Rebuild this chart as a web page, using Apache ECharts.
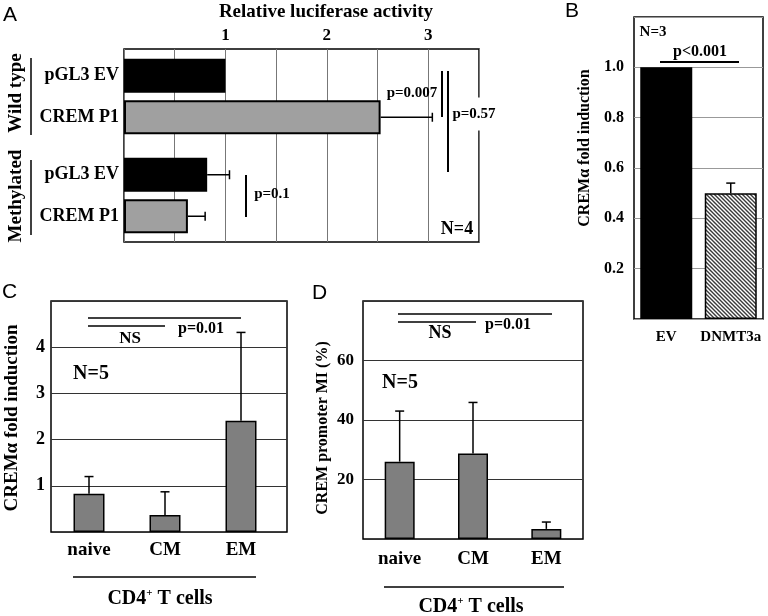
<!DOCTYPE html>
<html>
<head>
<meta charset="utf-8">
<script src="https://cdn.jsdelivr.net/npm/echarts@6/dist/echarts.min.js"></script>
<style>
html,body{margin:0;padding:0;background:#fff;}
#chart{width:768px;height:616px;}
</style>
</head>
<body>
<div id="chart"></div>
<script>
// ---------- DATA ----------
// Panel A: relative luciferase activity
const aCategories = ['pGL3 EV', 'CREM P1'];
const aWildType = [1.0, 2.53];
const aWildTypeErr = [0, 0.51];
const aMethylated = [0.82, 0.63];
const aMethylatedErr = [0.22, 0.17];
const aTickLabels = [1, 2, 3];
// Panel B: CREMalpha fold induction
const bCategories = ['EV', 'DNMT3a'];
const bValues = [1.0, 0.5];
const bErr = [0, 0.04];
const bTickLabels = [0.2, 0.4, 0.6, 0.8, 1.0];
// Panel C: CREMalpha fold induction in CD4+ T cells
const cCategories = ['naive', 'CM', 'EM'];
const cValues = [0.83, 0.37, 2.41];
const cErr = [0.37, 0.50, 1.91];
const cTickLabels = [1, 2, 3, 4];
// Panel D: CREM promoter MI (%)
const dCategories = ['naive', 'CM', 'EM'];
const dValues = [26, 28.7, 3.4];
const dErr = [17, 17.2, 2.3];
const dTickLabels = [20, 40, 60];

// ---------- STYLE ----------
const SERIF = '"Liberation Serif", "Times New Roman", serif';
const SANS = '"Liberation Sans", Arial, sans-serif';
const aColors = ['#000000', '#a0a0a0'];
const cdColor = '#7f7f7f';

function hatch() {
  const c = document.createElement('canvas');
  c.width = 4; c.height = 4;
  const g = c.getContext('2d');
  g.fillStyle = '#ffffff'; g.fillRect(0, 0, 4, 4);
  g.strokeStyle = '#3a3a3a'; g.lineWidth = 1.4;
  g.beginPath();
  g.moveTo(-1, -1); g.lineTo(5, 5);
  g.moveTo(-1, 3); g.lineTo(1, 5);
  g.moveTo(3, -1); g.lineTo(5, 1);
  g.stroke();
  return { image: c, repeat: 'repeat' };
}
const bColors = ['#000000', hatch()];

const chart = echarts.init(document.getElementById('chart'), null, { renderer: 'canvas' });

function lbl(size) {
  return { fontFamily: SERIF, fontWeight: 'bold', fontSize: size, color: '#000' };
}
function vErr(params, api) {
  const e = api.value(2);
  if (!e) return null;
  const p0 = api.coord([api.value(0), api.value(1)]);
  const p1 = api.coord([api.value(0), api.value(1) + e]);
  const st = { stroke: '#000', lineWidth: 1.5 };
  return { type: 'group', children: [
    { type: 'line', shape: { x1: p0[0], y1: p0[1], x2: p1[0], y2: p1[1] }, style: st },
    { type: 'line', shape: { x1: p1[0] - 4.5, y1: p1[1], x2: p1[0] + 4.5, y2: p1[1] }, style: st }
  ]};
}
function hErr(params, api) {
  const e = api.value(2);
  if (!e) return null;
  const p0 = api.coord([api.value(0), api.value(1)]);
  const p1 = api.coord([api.value(0) + e, api.value(1)]);
  const st = { stroke: '#000', lineWidth: 1.5 };
  return { type: 'group', children: [
    { type: 'line', shape: { x1: p0[0], y1: p0[1], x2: p1[0], y2: p1[1] }, style: st },
    { type: 'line', shape: { x1: p1[0], y1: p1[1] - 4.5, x2: p1[0], y2: p1[1] + 4.5 }, style: st }
  ]};
}

function T(text, x, y, size, extra) {
  return Object.assign({ type: 'text', x: x, y: y, z: 100,
    style: Object.assign({ text: text, fontFamily: SERIF, fontWeight: 'bold', fontSize: size,
      fill: '#000', align: 'center', verticalAlign: 'middle' }, (extra && extra.style) || {}) },
    (extra && extra.el) || {});
}
function L(x1, y1, x2, y2, w) {
  return { type: 'line', z: 100, shape: { x1: x1, y1: y1, x2: x2, y2: y2 },
    style: { stroke: '#000', lineWidth: w || 1.5 } };
}
function letter(t, x, y) {
  return { type: 'text', x: x, y: y, z: 100,
    style: { text: t, fontFamily: SANS, fontSize: 21, fill: '#000', align: 'left', verticalAlign: 'top' } };
}
function cd4(x, y, size) {
  return { type: 'text', x: x, y: y, z: 100,
    style: { text: '{a|CD4}{s|+}{a| T cells}', align: 'center', verticalAlign: 'middle',
      rich: {
        a: { fontFamily: SERIF, fontWeight: 'bold', fontSize: size, fill: '#000', lineHeight: size + 2 },
        s: { fontFamily: SERIF, fontWeight: 'bold', fontSize: Math.round(size * 0.55), fill: '#000', verticalAlign: 'top', lineHeight: size + 2 }
      } } };
}
const ROT = { el: { rotation: Math.PI / 2 } };

const frame = { show: true, borderColor: '#000', borderWidth: 1.5, backgroundColor: 'transparent' };

const option = {
  animation: false,
  backgroundColor: '#fff',
  grid: [
    Object.assign({ left: 124, top: 49, width: 355, height: 193 }, frame),
    { left: 124, top: 55, width: 355, height: 83 },
    { left: 124, top: 154, width: 355, height: 83 },
    Object.assign({ left: 634, top: 17, width: 129, height: 302 }, frame),
    Object.assign({ left: 51, top: 301, width: 236, height: 231 }, frame),
    { left: 51, top: 301, width: 228, height: 231 },
    Object.assign({ left: 363, top: 301, width: 220, height: 238 }, frame)
  ],
  xAxis: [
    { gridIndex: 0, type: 'value', min: 0, max: 3.5, interval: 0.5, position: 'top',
      axisLine: { show: false }, axisTick: { show: false },
      axisLabel: Object.assign(lbl(17), { margin: 5, formatter: v => aTickLabels.indexOf(v) >= 0 ? String(v) : '' }),
      splitLine: { show: true, lineStyle: { color: '#777', width: 1 } } },
    { gridIndex: 1, type: 'value', min: 0, max: 3.5, show: false },
    { gridIndex: 2, type: 'value', min: 0, max: 3.5, show: false },
    { gridIndex: 3, type: 'category', data: bCategories, axisLine: { show: false }, axisTick: { show: false },
      axisLabel: Object.assign(lbl(15), { margin: 11, interval: 0, hideOverlap: false }) },
    { gridIndex: 4, type: 'category', data: ['_'], show: false },
    { gridIndex: 5, type: 'category', data: cCategories, axisLine: { show: false }, axisTick: { show: false },
      axisLabel: Object.assign(lbl(19), { margin: 9, interval: 0 }) },
    { gridIndex: 6, type: 'category', data: dCategories, axisLine: { show: false }, axisTick: { show: false },
      axisLabel: Object.assign(lbl(19), { margin: 11, interval: 0 }) }
  ],
  yAxis: [
    { gridIndex: 0, type: 'category', data: ['_'], show: false },
    { gridIndex: 1, type: 'category', data: aCategories, inverse: true, axisLine: { show: false }, axisTick: { show: false },
      axisLabel: Object.assign(lbl(18), { margin: 5, interval: 0 }) },
    { gridIndex: 2, type: 'category', data: aCategories, inverse: true, axisLine: { show: false }, axisTick: { show: false },
      axisLabel: Object.assign(lbl(18), { margin: 5, interval: 0 }) },
    { gridIndex: 3, type: 'value', min: 0, max: 1.2, interval: 0.2, axisLine: { show: false }, axisTick: { show: false },
      axisLabel: Object.assign(lbl(16), { margin: 10, formatter: v => bTickLabels.some(t => Math.abs(t - v) < 1e-6) ? v.toFixed(1) : '' }),
      splitLine: { show: true, lineStyle: { color: '#999', width: 1 } } },
    { gridIndex: 4, type: 'value', min: 0, max: 5, interval: 1, axisLine: { show: false }, axisTick: { show: false },
      axisLabel: Object.assign(lbl(18), { margin: 6, formatter: v => cTickLabels.indexOf(v) >= 0 ? String(v) : '' }),
      splitLine: { show: true, lineStyle: { color: '#333', width: 1 } } },
    { gridIndex: 5, type: 'value', min: 0, max: 5, show: false },
    { gridIndex: 6, type: 'value', min: 0, max: 80, interval: 20, axisLine: { show: false }, axisTick: { show: false },
      axisLabel: Object.assign(lbl(17), { margin: 9, formatter: v => dTickLabels.indexOf(v) >= 0 ? String(v) : '' }),
      splitLine: { show: true, lineStyle: { color: '#333', width: 1 } } }
  ],
  series: [
    { type: 'bar', xAxisIndex: 1, yAxisIndex: 1, barWidth: 34,
      data: aWildType.map((v, i) => ({ value: v, itemStyle: { color: aColors[i] } })),
      itemStyle: { borderColor: '#000', borderWidth: 2 } },
    { type: 'custom', xAxisIndex: 1, yAxisIndex: 1, renderItem: hErr, encode: { x: 0, y: 1 }, z: 5,
      data: aWildType.map((v, i) => [v, i, aWildTypeErr[i]]) },
    { type: 'bar', xAxisIndex: 2, yAxisIndex: 2, barWidth: 34,
      data: aMethylated.map((v, i) => ({ value: v, itemStyle: { color: aColors[i] } })),
      itemStyle: { borderColor: '#000', borderWidth: 2 } },
    { type: 'custom', xAxisIndex: 2, yAxisIndex: 2, renderItem: hErr, encode: { x: 0, y: 1 }, z: 5,
      data: aMethylated.map((v, i) => [v, i, aMethylatedErr[i]]) },
    { type: 'bar', xAxisIndex: 3, yAxisIndex: 3, barWidth: 52,
      data: bValues.map((v, i) => ({ value: v, itemStyle: { color: bColors[i] } })),
      itemStyle: { borderColor: '#000', borderWidth: 1.5 } },
    { type: 'custom', xAxisIndex: 3, yAxisIndex: 3, renderItem: vErr, encode: { x: 0, y: 1 }, z: 5,
      data: bValues.map((v, i) => [i, v, bErr[i]]) },
    { type: 'bar', xAxisIndex: 5, yAxisIndex: 5, barWidth: 31,
      data: cValues, itemStyle: { color: cdColor, borderColor: '#000', borderWidth: 1.5 } },
    { type: 'custom', xAxisIndex: 5, yAxisIndex: 5, renderItem: vErr, encode: { x: 0, y: 1 }, z: 5,
      data: cValues.map((v, i) => [i, v, cErr[i]]) },
    { type: 'bar', xAxisIndex: 6, yAxisIndex: 6, barWidth: 30,
      data: dValues, itemStyle: { color: cdColor, borderColor: '#000', borderWidth: 1.5 } },
    { type: 'custom', xAxisIndex: 6, yAxisIndex: 6, renderItem: vErr, encode: { x: 0, y: 1 }, z: 5,
      data: dValues.map((v, i) => [i, v, dErr[i]]) }
  ],
  graphic: { elements: [
    // Panel letters
    letter('A', 3, 5), letter('B', 565, 1), letter('C', 2, 282), letter('D', 312, 283),
    // Panel A
    T('Relative luciferase activity', 326, 12, 19),
    T('Wild type', 16, 93, 19, ROT),
    T('Methylated', 16, 196, 19, ROT),
    L(31, 58, 31, 135), L(31, 160, 31, 235),
    L(442, 71, 442, 117, 2), L(448, 71, 448, 172, 2),
    T('p=0.007', 412, 93, 15),
    T('p=0.57', 474, 114, 15, { style: { backgroundColor: '#fff', padding: [9, 1] } }),
    L(246, 175, 246, 217, 2),
    T('p=0.1', 272, 194, 15),
    T('N=4', 457, 229, 18),
    // Panel B
    T('CREM\u03b1 fold induction', 585, 148, 16, ROT),
    T('N=3', 653, 32, 15),
    T('p<0.001', 700, 52, 16),
    L(660, 62, 739, 62, 2),
    // Panel C
    T('CREM\u03b1 fold induction', 12, 418, 19, ROT),
    L(88, 318, 241, 318), L(88, 326, 165, 326),
    T('NS', 130, 339, 17),
    T('p=0.01', 201, 329, 16),
    T('N=5', 91, 374, 20),
    L(73, 577, 256, 577),
    cd4(160, 599, 20),
    // Panel D
    T('CREM promoter MI (%)', 323, 428, 16, ROT),
    L(398, 314, 552, 314), L(398, 322, 476, 322),
    T('NS', 440, 333, 18),
    T('p=0.01', 508, 325, 16),
    T('N=5', 400, 383, 20),
    L(384, 587, 564, 587),
    cd4(471, 607, 20)
  ] }
};
chart.setOption(option);
</script>
</body>
</html>
